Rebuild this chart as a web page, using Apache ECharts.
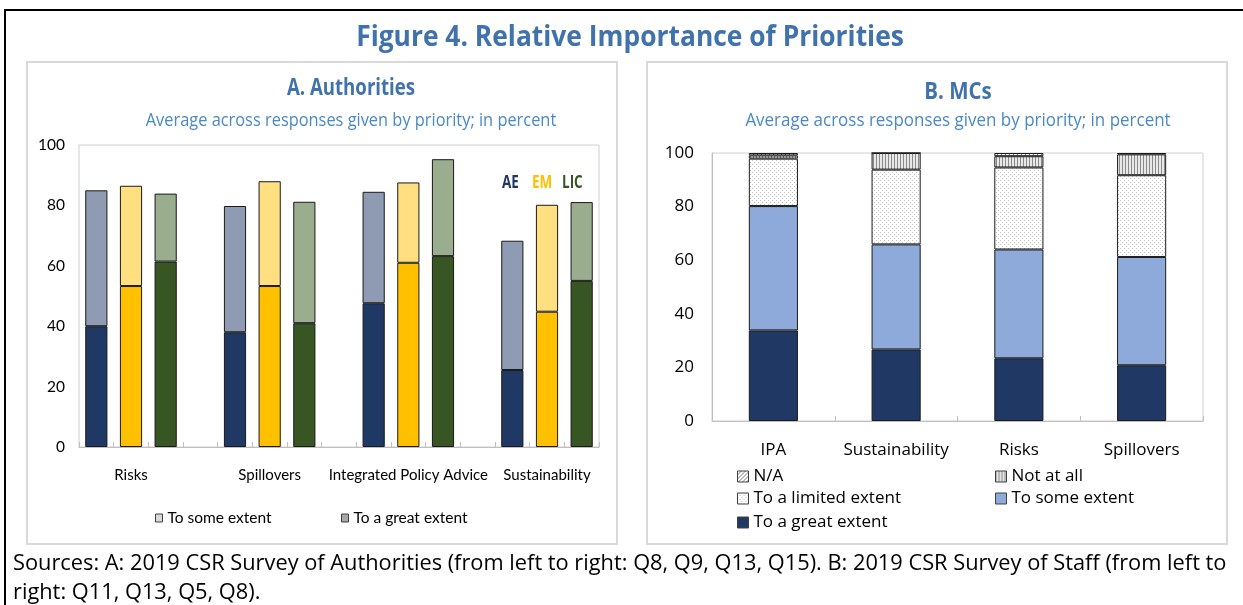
<!DOCTYPE html>
<html><head><meta charset="utf-8">
<script src="https://cdn.jsdelivr.net/npm/echarts@6/dist/echarts.min.js"></script>
<style>html,body{margin:0;padding:0;background:#fff}#c{width:1243px;height:605px}</style>
</head><body><div id="c"></div>
<script>
// ---------- Panel A data (Authorities) ----------
const priorities = ['Risks', 'Spillovers', 'Integrated Policy Advice', 'Sustainability'];
const groups = ['AE', 'EM', 'LIC'];
const aeGreat  = [40.0, 38.0, 47.6, 25.5];
const aeTotal  = [85.0, 79.8, 84.5, 68.3];
const emGreat  = [53.3, 53.3, 61.0, 44.8];
const emTotal  = [86.5, 88.0, 87.6, 80.2];
const licGreat = [61.4, 41.0, 63.2, 55.0];
const licTotal = [83.9, 81.2, 95.3, 81.1];

// ---------- Panel B data (MCs) ----------
const mcCategories = ['IPA', 'Sustainability', 'Risks', 'Spillovers'];
const mcGreat    = [33.8, 26.7, 23.4, 20.8];
const mcSome     = [46.4, 39.2, 40.6, 40.4];
const mcLimited  = [17.7, 27.9, 30.6, 30.5];
const mcNotAtAll = [1.2, 6.2, 4.2, 7.8];
const mcNA       = [0.9, 0.0, 1.2, 0.5];

const yMin = 0, yMax = 100, yStep = 20;

// ---------- styles ----------
const NARROW = "Lato, 'Open Sans', sans-serif";
const SEGOE = "'Open Sans', 'Noto Sans', sans-serif";
const darkCol = { AE: '#203864', EM: '#FFC000', LIC: '#375623' };
const lightCol = { AE: '#8E9BB3', EM: '#FFDF80', LIC: '#9BAD8F' };

function makePattern(w, h, draw) {
  const c = document.createElement('canvas');
  c.width = w; c.height = h;
  draw(c.getContext('2d'), w, h);
  return { image: c, repeat: 'repeat' };
}
const dotPat = makePattern(4, 4, (x) => {
  x.fillStyle = '#ffffff'; x.fillRect(0, 0, 4, 4);
  x.fillStyle = '#c4c4c4'; x.fillRect(0, 0, 1, 1); x.fillRect(2, 2, 1, 1);
});
const stripePat = makePattern(3, 3, (x) => {
  x.fillStyle = '#e8e8e8'; x.fillRect(0, 0, 3, 3);
  x.fillStyle = '#8a8a8a'; x.fillRect(0, 0, 1, 3);
});
const hatchPat = makePattern(4, 4, (x) => {
  x.fillStyle = '#ffffff'; x.fillRect(0, 0, 4, 4);
  x.fillStyle = '#7a7a7a';
  x.fillRect(3, 0, 1, 1); x.fillRect(2, 1, 1, 1); x.fillRect(1, 2, 1, 1); x.fillRect(0, 3, 1, 1);
});

// ---------- build panel A slots ----------
const slots = [], slotLabels = [], greatData = [], someData = [];
priorities.forEach((p, i) => {
  const g = [aeGreat[i], emGreat[i], licGreat[i]];
  const t = [aeTotal[i], emTotal[i], licTotal[i]];
  groups.forEach((k, j) => {
    slots.push(p + '|' + k);
    slotLabels.push(j === 1 ? p : '');
    greatData.push({ value: g[j], itemStyle: { color: darkCol[k] } });
    someData.push({ value: +(t[j] - g[j]).toFixed(1), itemStyle: { color: lightCol[k] } });
  });
  if (i < priorities.length - 1) {
    slots.push('gap' + i); slotLabels.push(''); greatData.push('-'); someData.push('-');
  }
});

const chart = echarts.init(document.getElementById('c'), null, { renderer: 'canvas' });

const barBorder = { borderColor: '#1a1a1a', borderWidth: 1 };
function legendB(name, color, left, top) {
  return { data: [{ name: name, itemStyle: { color: color, borderColor: '#404040', borderWidth: 1 } }],
    left: left, top: top, padding: 0, icon: 'rect', itemWidth: 11, itemHeight: 11,
    textStyle: { fontSize: 17, fontFamily: SEGOE, color: '#000' }, selectedMode: false };
}
function legendA(name, color, left) {
  return { data: [{ name: name, itemStyle: { color: color, borderColor: '#404040', borderWidth: 1 } }],
    left: left, top: 510, padding: 0, icon: 'rect', itemWidth: 7, itemHeight: 8,
    textStyle: { fontSize: 15.5, fontFamily: NARROW, color: '#000' }, selectedMode: false };
}
function txt(x, y, s, color, font, sx, align) {
  return { type: 'text', x: x, y: y, scaleX: sx, silent: true,
    style: { text: s, fill: color, font: font, align: align || 'center', verticalAlign: 'middle' } };
}

const option = {
  animation: false,
  backgroundColor: '#ffffff',
  grid: [
    { left: 79, top: 145, width: 520, height: 302, show: true, borderColor: '#d0d0d0', borderWidth: 1, backgroundColor: 'transparent' },
    { left: 712, top: 153, width: 491, height: 268, show: true, borderColor: '#d0d0d0', borderWidth: 1, backgroundColor: 'transparent' }
  ],
  xAxis: [
    {
      gridIndex: 0, type: 'category', data: slots,
      axisLine: { lineStyle: { color: '#bfbfbf' } },
      axisTick: { show: true, inside: true, length: 5, interval: 0, lineStyle: { color: '#bfbfbf' } },
      axisLabel: {
        interval: 0, margin: 21, color: '#000', fontSize: 15, fontFamily: NARROW,
        formatter: (v, idx) => slotLabels[idx]
      }
    },
    {
      gridIndex: 1, type: 'category', data: mcCategories,
      axisLine: { lineStyle: { color: '#bfbfbf' } },
      axisTick: { show: true, inside: true, length: 5, lineStyle: { color: '#bfbfbf' } },
      axisLabel: { interval: 0, margin: 21, color: '#000', fontSize: 17, fontFamily: SEGOE }
    }
  ],
  yAxis: [
    {
      gridIndex: 0, type: 'value', min: yMin, max: yMax, interval: yStep,
      axisLine: { show: false }, axisTick: { show: false }, splitLine: { show: false },
      axisLabel: { margin: 14, color: '#000', fontSize: 15.5, fontFamily: NARROW }
    },
    {
      gridIndex: 1, type: 'value', min: yMin, max: yMax, interval: yStep,
      axisLine: { show: true, lineStyle: { color: '#bfbfbf' } }, axisTick: { show: false }, splitLine: { show: false },
      axisLabel: { margin: 18, color: '#000', fontSize: 17, fontFamily: SEGOE }
    }
  ],
  legend: [
    legendA('To some extent', '#d9d9d9', 155),
    legendA('To a great extent', '#a6a6a6', 341),
    legendB('N/A', hatchPat, 737, 468),
    legendB('Not at all', stripePat, 995, 468),
    legendB('To a limited extent', dotPat, 737, 490),
    legendB('To some extent', '#8EAADB', 995, 490),
    legendB('To a great extent', '#1F3864', 737, 514)
  ],
  series: [
    { name: 'To a great extent', type: 'bar', xAxisIndex: 0, yAxisIndex: 0, stack: 'A', barWidth: '64%',
      itemStyle: Object.assign({ color: '#a6a6a6' }, barBorder), data: greatData },
    { name: 'To some extent', type: 'bar', xAxisIndex: 0, yAxisIndex: 0, stack: 'A', barWidth: '64%',
      itemStyle: Object.assign({ color: '#d9d9d9' }, barBorder), data: someData },

    { name: 'To a great extent', type: 'bar', xAxisIndex: 1, yAxisIndex: 1, stack: 'B', barWidth: '40%',
      itemStyle: Object.assign({ color: '#1F3864' }, barBorder), data: mcGreat },
    { name: 'To some extent', type: 'bar', xAxisIndex: 1, yAxisIndex: 1, stack: 'B', barWidth: '40%',
      itemStyle: Object.assign({ color: '#8EAADB' }, barBorder), data: mcSome },
    { name: 'To a limited extent', type: 'bar', xAxisIndex: 1, yAxisIndex: 1, stack: 'B', barWidth: '40%',
      itemStyle: Object.assign({ color: dotPat }, barBorder), data: mcLimited },
    { name: 'Not at all', type: 'bar', xAxisIndex: 1, yAxisIndex: 1, stack: 'B', barWidth: '40%',
      itemStyle: Object.assign({ color: stripePat }, barBorder), data: mcNotAtAll },
    { name: 'N/A', type: 'bar', xAxisIndex: 1, yAxisIndex: 1, stack: 'B', barWidth: '40%',
      itemStyle: Object.assign({ color: hatchPat }, barBorder), data: mcNA }
  ],
  graphic: [
    { type: 'rect', silent: true, z: -1, shape: { x: 5, y: 10, width: 1250, height: 620 },
      style: { fill: 'none', stroke: '#000', lineWidth: 2 } },
    { type: 'rect', silent: true, z: -1, shape: { x: 27, y: 62, width: 590, height: 482 },
      style: { fill: 'none', stroke: '#d9d9d9', lineWidth: 2 } },
    { type: 'rect', silent: true, z: -1, shape: { x: 647, y: 62, width: 580, height: 482 },
      style: { fill: 'none', stroke: '#d9d9d9', lineWidth: 2 } },
    txt(630, 38, 'Figure 4. Relative Importance of Priorities', '#4072AB', 'bold 29px ' + SEGOE, 0.91),
    txt(351, 88, 'A. Authorities', '#4072AB', 'bold 23px ' + SEGOE, 0.81),
    txt(351, 121, 'Average across responses given by priority; in percent', '#4A89C6', '19px ' + SEGOE, 0.862),
    txt(958, 92, 'B. MCs', '#4072AB', 'bold 23px ' + SEGOE, 0.89),
    txt(958, 121, 'Average across responses given by priority; in percent', '#4A89C6', '19px ' + SEGOE, 0.893),
    txt(502, 183, 'AE', darkCol.AE, 'bold 18px ' + SEGOE, 0.75, 'left'),
    txt(532, 183, 'EM', darkCol.EM, 'bold 18px ' + SEGOE, 0.75, 'left'),
    txt(562, 183, 'LIC', darkCol.LIC, 'bold 18px ' + SEGOE, 0.75, 'left'),
    txt(13, 564, 'Sources: A: 2019 CSR Survey of Authorities (from left to right: Q8, Q9, Q13, Q15). B: 2019 CSR Survey of Staff (from left to',
      '#000', '21.8px ' + SEGOE, 1, 'left'),
    txt(13, 593, 'right: Q11, Q13, Q5, Q8).', '#000', '21.8px ' + SEGOE, 1, 'left')
  ]
};
chart.setOption(option);
</script>
</body></html>
